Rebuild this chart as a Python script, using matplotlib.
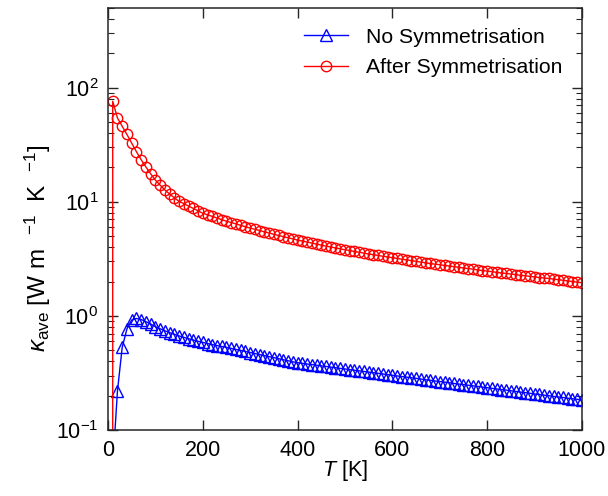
import numpy as np
import matplotlib
matplotlib.use("Agg")
import matplotlib.pyplot as plt
from matplotlib.ticker import LogLocator, NullFormatter, MultipleLocator

plt.rcParams["font.family"] = ["Liberation Sans", "DejaVu Sans"]
plt.rcParams["mathtext.fontset"] = "custom"
plt.rcParams["mathtext.rm"] = "Liberation Sans"
plt.rcParams["mathtext.it"] = "Liberation Sans:italic"
plt.rcParams["mathtext.bf"] = "Liberation Sans:bold"

# Temperature grid [K]
temperature = list(range(0, 1001, 10))

# Average lattice thermal conductivity without symmetrisation [W m^-1 K^-1]
kappa_no_sym = [
    0.0, 0.048, 0.22, 0.53, 0.77, 0.92, 0.95, 0.93, 0.89, 0.85,
    0.804, 0.771, 0.741, 0.714, 0.690, 0.668, 0.649, 0.631, 0.615, 0.600,
    0.586, 0.573, 0.561, 0.550, 0.540, 0.530, 0.519, 0.508, 0.498, 0.488,
    0.478, 0.468, 0.458, 0.449, 0.440, 0.431, 0.422, 0.413, 0.405, 0.396,
    0.389, 0.384, 0.379, 0.375, 0.370, 0.365, 0.361, 0.356, 0.352, 0.347,
    0.343, 0.338, 0.334, 0.330, 0.326, 0.322, 0.318, 0.314, 0.310, 0.306,
    0.302, 0.298, 0.294, 0.291, 0.287, 0.284, 0.280, 0.276, 0.273, 0.269,
    0.266, 0.263, 0.260, 0.256, 0.253, 0.250, 0.247, 0.244, 0.241, 0.238,
    0.235, 0.232, 0.229, 0.226, 0.224, 0.221, 0.218, 0.215, 0.213, 0.210,
    0.207, 0.205, 0.202, 0.200, 0.197, 0.195, 0.193, 0.190, 0.188, 0.186,
    0.183,
]

# Average lattice thermal conductivity after symmetrisation [W m^-1 K^-1]
kappa_after_sym = [
    0.0, 76.0, 54.3, 45.9, 38.9, 32.7, 27.5, 23.4, 20.2, 17.6,
    15.5, 14.0, 12.7, 11.7, 10.84, 10.1, 9.64, 9.18, 8.75, 8.34,
    7.94, 7.69, 7.45, 7.21, 6.98, 6.76, 6.58, 6.40, 6.22, 6.05,
    5.89, 5.74, 5.60, 5.46, 5.32, 5.19, 5.07, 4.95, 4.84, 4.73,
    4.62, 4.53, 4.44, 4.35, 4.26, 4.17, 4.09, 4.02, 3.94, 3.87,
    3.80, 3.74, 3.67, 3.61, 3.55, 3.49, 3.44, 3.39, 3.33, 3.29,
    3.24, 3.19, 3.14, 3.10, 3.05, 3.01, 2.96, 2.92, 2.88, 2.84,
    2.81, 2.77, 2.74, 2.70, 2.67, 2.63, 2.60, 2.57, 2.53, 2.50,
    2.47, 2.44, 2.41, 2.38, 2.36, 2.33, 2.30, 2.27, 2.25, 2.22,
    2.20, 2.17, 2.15, 2.13, 2.10, 2.08, 2.05, 2.03, 2.00, 1.98,
    1.95,
]

series_labels = ["No Symmetrisation", "After Symmetrisation"]

fig = plt.figure(figsize=(6.08, 4.96), dpi=100)
ax = fig.add_axes([0.1776, 0.133, 0.7796, 0.851])

with np.errstate(divide="ignore"):
    ax.plot(temperature, kappa_no_sym, color="#0000ff", lw=1.0,
            marker="^", markersize=8, markerfacecolor="none",
            markeredgewidth=1.0, label=series_labels[0])
    ax.plot(temperature, kappa_after_sym, color="#ff0000", lw=1.0,
            marker="o", markersize=7.5, markerfacecolor="none",
            markeredgewidth=1.0, label=series_labels[1])

ax.set_yscale("log")
ax.set_xlim(0, 1000)
ax.set_ylim(0.1, 500)
ax.xaxis.set_major_locator(MultipleLocator(200))
ax.yaxis.set_major_locator(LogLocator(base=10, numticks=10))
ax.yaxis.set_minor_locator(LogLocator(base=10, subs=np.arange(2, 10), numticks=10))
ax.yaxis.set_minor_formatter(NullFormatter())

ax.tick_params(which="both", direction="in", top=True, right=True,
               labelsize=15.5, colors="#262626", labelcolor="black")
ax.tick_params(which="major", length=7, width=1.0, pad=7)
ax.tick_params(which="minor", length=4, width=0.8)
for s in ax.spines.values():
    s.set_linewidth(1.1)
    s.set_color("#262626")

ax.set_xlabel(r"$T$ [K]", fontsize=15.5, labelpad=-2)
ax.set_ylabel(r"$\kappa_{\rm ave}$ [W m  $^{-1}$  K  $^{-1}$]", fontsize=17.5)
ax.yaxis.set_label_coords(-0.115, 0.43)

ax.legend(loc="upper right", bbox_to_anchor=(0.977, 0.973), borderaxespad=0,
          frameon=False, fontsize=15.2, handlelength=2.1,
          labelspacing=0.55, handletextpad=0.87)

fig.savefig("out.png", dpi=100)
